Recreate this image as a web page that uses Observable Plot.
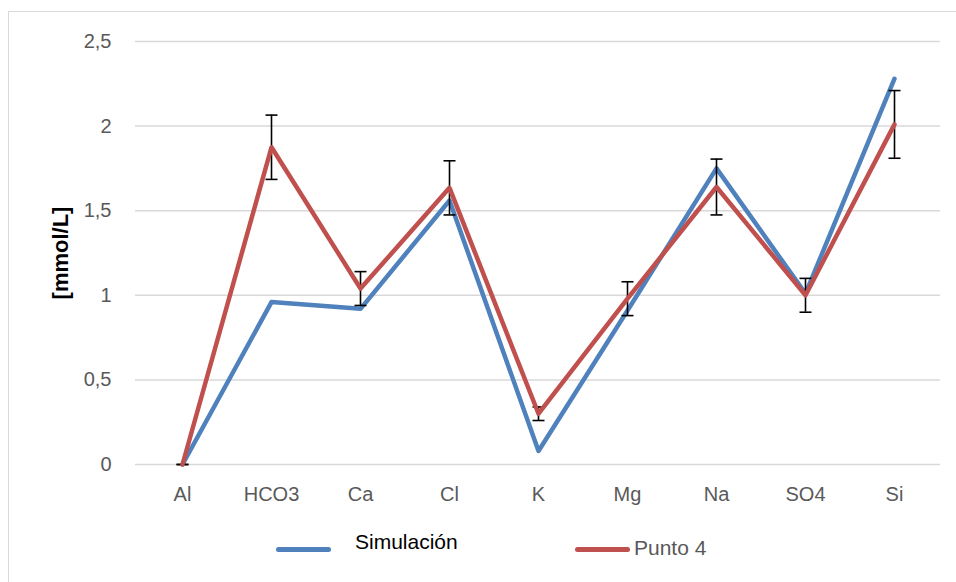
<!DOCTYPE html>
<html>
<head>
<meta charset="utf-8">
<script src="https://cdn.jsdelivr.net/npm/d3@7"></script>
<script src="https://cdn.jsdelivr.net/npm/@observablehq/plot@0.6"></script>
<style>
  html, body { margin: 0; padding: 0; background: #fff; }
  #wrap { position: relative; width: 956px; height: 582px; overflow: hidden; font-family: "Liberation Sans", Arial, sans-serif; }
  #frame { position: absolute; left: 8px; top: 11px; width: 960px; height: 600px; border: 1px solid #d9d9d9; box-sizing: border-box; }
  #chart { position: absolute; left: 0; top: 0; }
  .leg { position: absolute; font-size: 21px; white-space: nowrap; }
  .sw { position: absolute; height: 5px; border-radius: 3px; }
</style>
</head>
<body>
<div id="wrap">
  <div id="frame"></div>
  <div id="chart"></div>
</div>
<script>
const categories = ["Al", "HCO3", "Ca", "Cl", "K", "Mg", "Na", "SO4", "Si"];
const simulacion = [0, 0.96, 0.92, 1.56, 0.08, 0.91, 1.75, 1.01, 2.28];
const punto4 = [0, 1.875, 1.04, 1.635, 0.30, 0.98, 1.64, 1.00, 2.01];
const punto4Err = [0, 0.19, 0.10, 0.16, 0.04, 0.10, 0.165, 0.10, 0.20];
const yTicks = [0, 0.5, 1, 1.5, 2, 2.5];
const seriesNames = ["Simulación", "Punto 4"];
const colors = ["#4f81bd", "#c0504d"];

const simData = categories.map((c, i) => ({cat: c, v: simulacion[i]}));
const ptData = categories.map((c, i) => ({cat: c, v: punto4[i], lo: punto4[i] - punto4Err[i], hi: punto4[i] + punto4Err[i]}));

const capSymbol = {
  draw(context) {
    context.moveTo(-6, 0);
    context.lineTo(6, 0);
  }
};

const chart = Plot.plot({
  width: 956,
  height: 582,
  marginLeft: 135,
  marginRight: 16,
  marginTop: 41,
  marginBottom: 118,
  style: {fontFamily: "'Liberation Sans', Arial, sans-serif", fontSize: "20px", color: "#595959", background: "transparent"},
  x: {type: "point", domain: categories, padding: 0.5, label: null},
  y: {domain: [0, 2.5], label: null},
  marks: [
    Plot.gridY(yTicks, {stroke: "#d9d9d9", strokeOpacity: 1, strokeWidth: 1.5}),
    Plot.axisY(yTicks, {tickSize: 0, tickPadding: 24, tickFormat: d => String(d).replace(".", ","), fill: "#595959", fontSize: 20}),
    Plot.axisX({tickSize: 0, tickPadding: 22, fill: "#595959", fontSize: 20}),
    Plot.line(simData, {x: "cat", y: "v", stroke: colors[0], strokeWidth: 4.5, strokeLinejoin: "round", strokeLinecap: "round"}),
    Plot.ruleX(ptData, {x: "cat", y1: "lo", y2: "hi", stroke: "black", strokeWidth: 1.6}),
    Plot.dot(ptData, {x: "cat", y: "lo", symbol: capSymbol, stroke: "black", strokeWidth: 1.6, fill: "none", r: 3}),
    Plot.dot(ptData, {x: "cat", y: "hi", symbol: capSymbol, stroke: "black", strokeWidth: 1.6, fill: "none", r: 3}),
    Plot.line(ptData, {x: "cat", y: "v", stroke: colors[1], strokeWidth: 4.5, strokeLinejoin: "round", strokeLinecap: "round"}),
    Plot.text(["[mmol/L]"], {frameAnchor: "left", textAnchor: "middle", dx: -75, rotate: -90, fontWeight: "bold", fontSize: 22, fill: "black"})
  ]
});
document.getElementById("chart").appendChild(chart);

const wrap = document.getElementById("wrap");
function addLegend(name, color, lineLeft, textLeft, textTop, textColor) {
  const sw = document.createElement("div");
  sw.className = "sw";
  sw.style.left = lineLeft + "px";
  sw.style.top = "547px";
  sw.style.width = "55px";
  sw.style.background = color;
  wrap.appendChild(sw);
  const t = document.createElement("div");
  t.className = "leg";
  t.style.left = textLeft + "px";
  t.style.top = textTop + "px";
  t.style.color = textColor;
  t.textContent = name;
  wrap.appendChild(t);
}
addLegend(seriesNames[0], colors[0], 276, 355, 530, "#000000");
addLegend(seriesNames[1], colors[1], 575, 634, 536, "#595959");
</script>
</body>
</html>
